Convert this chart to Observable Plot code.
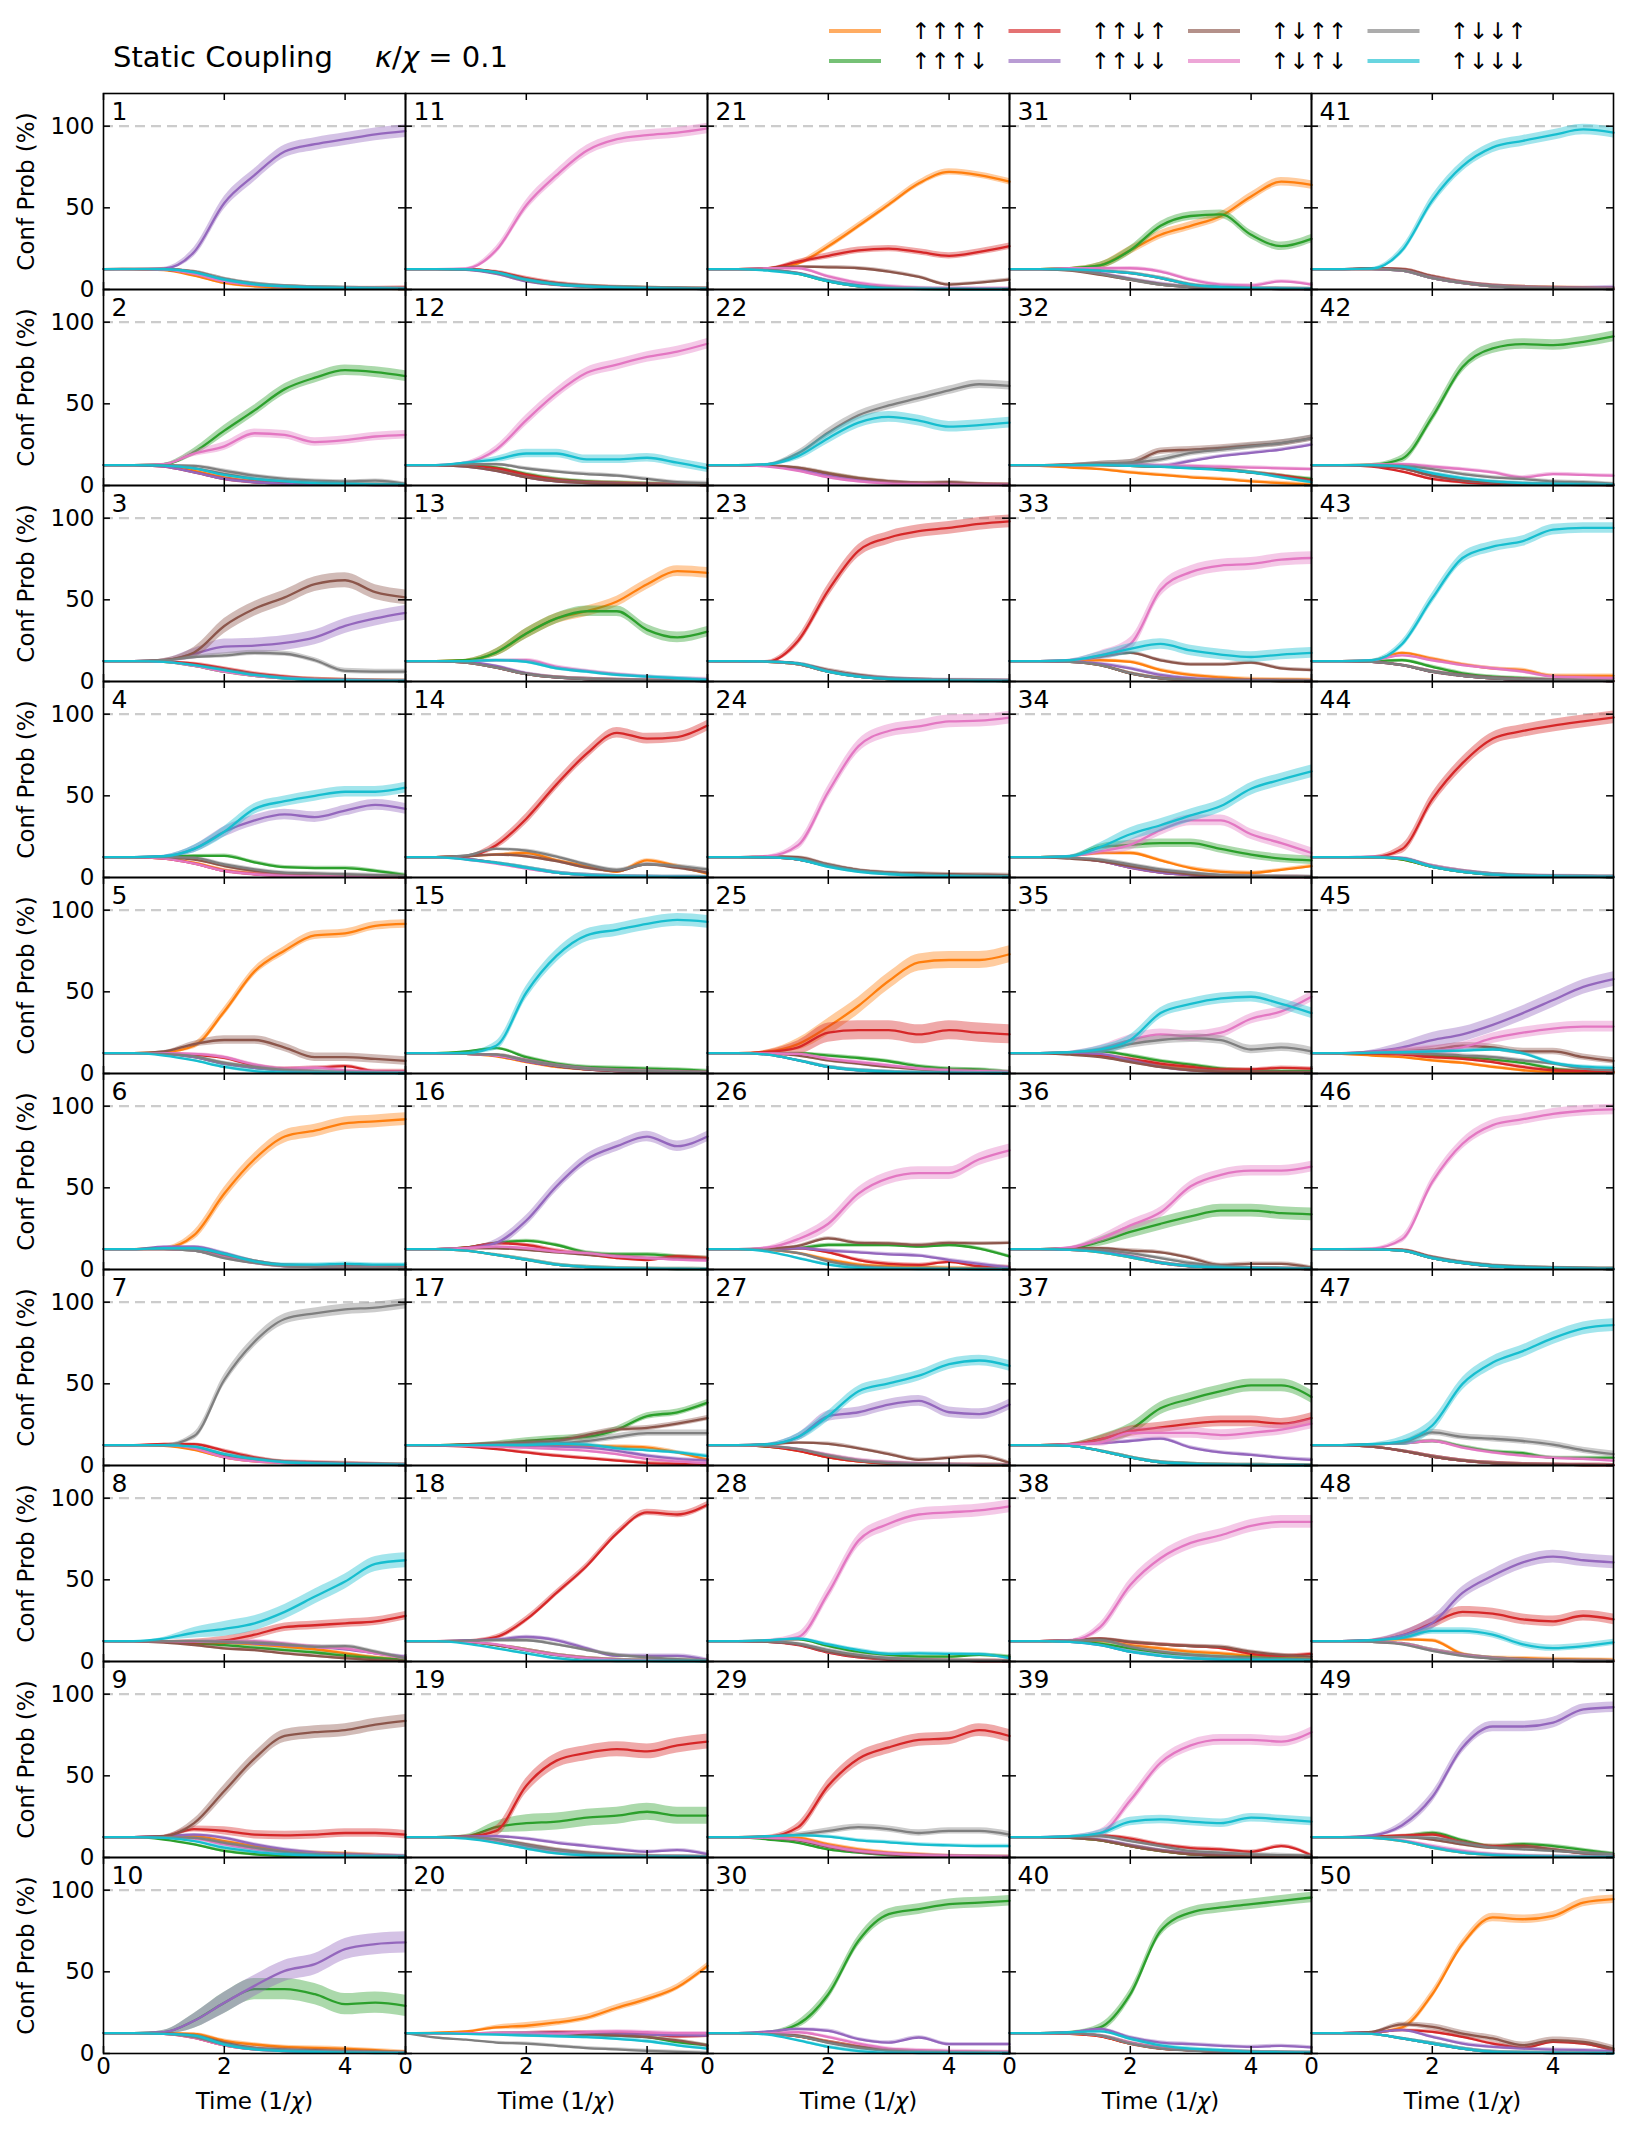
<!DOCTYPE html>
<html><head><meta charset="utf-8">
<script src="https://cdn.jsdelivr.net/npm/d3@7"></script>
<script src="https://cdn.jsdelivr.net/npm/@observablehq/plot@0.6"></script>
<style>
body{margin:0;background:#fff;font-family:"DejaVu Sans",sans-serif;}
#head{display:block;}
#chart svg{display:block;}
</style></head><body>
<svg id="head" width="1634" height="85"></svg>
<div id="chart"></div>
<script>
const T = [0,0.5,1,1.5,2,2.5,3,3.5,4,4.5,5];
const seriesLabels = ["↑↑↑↑","↑↑↑↓","↑↑↓↑","↑↑↓↓","↑↓↑↑","↑↓↑↓","↑↓↓↑","↑↓↓↓"];
const seriesColors = ["#ff7f0e","#2ca02c","#d62728","#9467bd","#8c564b","#e377c2","#7f7f7f","#17becf"];
const yTicks = [0,50,100];
const xTicks = [0,2,4];
const titleText = "Static Coupling";
const xLabel = "Time (1/χ)";
const yLabel = "Conf Prob (%)";

// series order in each panel: ↑↑↑↑, ↑↑↑↓, ↑↑↓↑, ↑↑↓↓, ↑↓↑↑, ↑↓↑↓, ↑↓↓↑, ↑↓↓↓ ; values at times T
const p1 = [[12.5,12.4,11.8,8.5,4,2,1.2,0.8,0.5,0.4,0.3],[12.5,12.5,12.2,10,5.5,3,1.8,1.2,0.8,0.6,0.4],[12.5,12.5,12.2,10,5.5,3,1.8,1.2,0.9,0.9,1.2],[12.5,12.5,12.8,23,53,70,84.5,89,92,95,97],[12.5,12.6,12.6,11,6.5,3.5,2,1.3,0.9,0.6,0.4],[12.5,12.5,12.2,9.5,5,2.8,1.7,1.1,0.8,0.6,0.4],[12.5,12.6,12.6,11,6.5,3.5,2,1.3,0.9,0.6,0.4],[12.5,12.5,12.4,10.5,6,3.2,1.9,1.2,0.9,0.6,0.4]];
const p2 = [[12.5,12.5,12,9,5,2.5,1.5,1,0.7,0.5,0.3],[12.5,12.5,13,20.5,33.6,46,59,66,70.6,69.4,67],[12.5,12.5,11.5,8,4,2,1.2,0.8,0.5,0.3,0.2],[12.5,12.5,11.5,8,4,2,1.2,0.8,0.5,0.3,0.2],[12.5,12.5,12.3,10.5,7,4,2.5,1.5,1,0.6,0.4],[12.5,12.5,13,19.5,24,32,31,26.6,27.8,30,31],[12.5,12.5,12.5,12,9,6,4,3,2.5,3,1],[12.5,12.5,12.2,10.5,6.5,4,2.5,1.5,1,0.6,0.4]];
const p3 = [[12.5,12.5,12,10,7,4,2.5,1.5,1,0.6,0.4],[12.5,12.5,12,9.5,6,3.5,2,1.2,0.8,0.5,0.3],[12.5,12.5,12.2,11,8,5,3,1.5,1,0.7,0.5],[12.5,12.5,13,17,21.4,22,23.6,27,34,38.6,42],[12.5,12.5,13.2,17.8,34,44.5,51.5,59.6,62,54.7,51.5],[12.5,12.5,12,9.5,6,3.5,2,1.2,0.8,0.5,0.3],[12.5,12.5,13,15,16,17.5,17,13,6.5,6,6],[12.5,12.5,12,10,7,4,2,1,0.6,0.4,0.3]];
const p4 = [[12.5,12.5,11.5,9,4.5,2.5,1.2,0.8,0.5,0.3,0.2],[12.5,12.5,13,13.3,13.3,9.3,6.3,5.8,5.8,4,1.5],[12.5,12.5,11.5,8.5,4,2,1,0.6,0.4,0.3,0.2],[12.5,12.5,13,17.5,28,35,38.6,37,41,44.5,42],[12.5,12.5,12,11,7,4,2,1.2,0.6,0.4,0.3],[12.5,12.5,11.5,8.5,4,2,1,0.6,0.4,0.3,0.2],[12.5,12.5,12.5,12,8,5,3,2.5,2,1.5,1],[12.5,12.5,13,17.5,28,42,46.7,50,52.5,52.5,55]];
const p5 = [[12.5,12.5,13,17,38,62.5,75.3,84.6,85.8,90.4,91.6],[12.5,12.5,12,10,6,3.5,2,1.2,0.8,0.5,0.3],[12.5,12.5,12.3,11.5,9.5,5,3,3.5,4.5,1.5,1.5],[12.5,12.5,12,10,6,3.5,2,1.2,0.8,0.5,0.3],[12.5,12.5,13.5,18,20.5,20.5,15.9,10,10,8.9,7.7],[12.5,12.5,12.5,12,10,5.4,3,3.5,1.9,1.2,1],[12.5,12.5,12,10.5,6.5,4,2.2,1.3,0.8,0.5,0.3],[12.5,12.5,11,8,4,1.5,0.6,0.3,0.2,0.1,0.1]];
const p6 = [[12.5,12.5,13,21,46.5,67.5,81.4,85,89.5,90.7,92],[12.5,12.5,12.5,11.5,8,5,2.5,2,2,1.8,1.5],[12.5,12.5,12.5,12,8.5,5,2.5,2,2,2,1.5],[12.5,12.5,14,14,10,5,2.5,1.5,1,0.8,0.5],[12.5,12.5,13,12.5,9,5,2.5,2,2,2,1.5],[12.5,12.5,12.5,11.5,7.5,4,2,1.5,1.2,1,0.8],[12.5,12.5,12.5,11.5,7,4,2,1.5,1.2,1,0.8],[12.5,12.5,13,13,9.5,5,3,3,3.5,3,3]];
const p7 = [[12.5,12.5,12,9.5,5,2.5,1.5,1,0.7,0.5,0.3],[12.5,12.5,12.5,11,6.5,3.5,2,1.3,0.9,0.6,0.4],[12.5,12.5,13.3,13,9,5,2.5,2,1.5,1,0.5],[12.5,12.5,12.5,11,6,3,1.8,1.2,0.8,0.5,0.3],[12.5,12.5,12.5,11,6.5,3.5,2,1.3,0.9,0.6,0.4],[12.5,12.5,12.5,10.5,5,2.5,1.5,1,0.7,0.5,0.3],[12.5,12.5,12.5,18,52.5,75.8,89.7,93.2,95.6,96.7,99],[12.5,12.5,12.5,11.5,7,4,2,1.3,0.9,0.6,0.4]];
const p8 = [[12.5,12.5,12.3,12,11.5,10.5,9,7.5,5,2.5,1],[12.5,12.5,12,11,10,8.5,7,5.5,3.5,2,1],[12.5,12.5,12.3,11.8,12.9,16.4,21,22.2,23.4,24.6,28],[12.5,12.5,12.5,12.3,12,11,10,9,7.5,5,3],[12.5,12.3,11.5,10,8,7,5,3.5,2,0.8,0.3],[12.5,12.5,12.5,12.3,12,12.5,11,9,8,5,2],[12.5,12.5,12.5,12.5,12,11.5,10.5,9,9.4,6,2],[12.5,12.5,14,17.6,20,23.4,30.4,39.8,49,59.7,62]];
const p9 = [[12.5,12.5,12.5,13,10,7,4,3,2.5,1.5,0.5],[12.5,12.5,11,8,4,2,1,0.6,0.4,0.3,0.2],[12.5,12.5,13,17.4,16.3,14,13.5,14,15,15,14],[12.5,12.5,13,14,12,8,5,3,2,1.5,1],[12.5,12.5,13,21,40.7,60.5,74.4,76.7,78,81.4,83.7],[12.5,12.5,12.3,11.5,8,5,3,1.8,1,0.6,0.4],[12.5,12.5,12.5,12,9,6,3.5,2,1.2,0.8,0.5],[12.5,12.5,12,10,6,3.5,2,1.2,0.8,0.5,0.3]];
const p10 = [[12.5,12.5,12.5,12,7.8,5.5,4,3.5,3,2,1],[12.5,12.5,13,20,31,39.4,39.4,36.3,30.2,31.2,29.2],[12.5,12.5,12,9.5,5,2.5,1.5,1,0.6,0.4,0.3],[12.5,12.5,13,20,31,41.4,50.6,54.7,63.9,67,68],[12.5,12.5,12.2,11,6.5,3.5,2.5,2,1.5,1,0.5],[12.5,12.5,12,9.5,5,2.5,1.5,1,0.6,0.4,0.3],[12.5,12.5,12,10,5.5,3,1.8,1.2,0.8,0.5,0.3],[12.5,12.5,12,11,5.5,2.5,1.5,1,0.5,0.3,0.2]];
const p11 = [[12.5,12.5,12.2,10,5.5,3,1.8,1.2,0.8,0.5,0.3],[12.5,12.5,12.3,10.5,6,3.3,2,1.3,0.9,0.6,0.4],[12.5,12.5,12.5,11,7,4,2.3,1.5,1,0.8,0.6],[12.5,12.5,12,9.5,5,2.8,1.6,1,0.7,0.5,0.3],[12.5,12.5,12.4,10.5,6,3.3,2,1.3,0.9,0.6,0.4],[12.5,12.5,12.8,24,51.6,70,85,92,94.5,96,98.6],[12.5,12.5,12.3,10,5.5,3,1.8,1.2,0.8,0.5,0.3],[12.5,12.5,12.3,10.5,6,3.2,1.9,1.2,0.8,0.5,0.3]];
const p12 = [[12.5,12.5,12,9.5,5.5,3,1.8,1.2,0.8,0.5,0.3],[12.5,12.5,12.3,11,7,4,2.5,1.8,1.2,0.8,0.5],[12.5,12.5,12,10.5,6.5,3.5,2,1.5,1,0.8,0.5],[12.5,12.5,11.5,9,5,2.5,1.5,1,0.6,0.4,0.3],[12.5,12.5,11.5,9,5,2.5,1.5,1,0.6,0.4,0.3],[12.5,12.5,14,22,40,56.5,69,74,78.7,82,86.8],[12.5,12.5,13,13,10.4,8.5,7,6,4,2,1.5],[12.5,12.5,14,16,19.6,19.6,16,16,17,14,10.5]];
const p13 = [[12.5,12.5,13,17.8,29.4,38.6,43,49,59.6,67.6,66.5],[12.5,12.5,13,17.8,29.4,38.6,43,43,31.6,27,30.5],[12.5,12.5,11.5,8.5,4.5,2.5,1.5,1,0.6,0.4,0.3],[12.5,12.5,12,9.5,5,2.5,1.5,1,0.6,0.4,0.3],[12.5,12.5,11.5,8.5,4.5,2.5,1.5,1,0.6,0.4,0.3],[12.5,12.5,12.5,13,13,9,6.5,4.5,3,2,1.5],[12.5,12.5,11.5,8.5,4.5,2.5,1.5,1,0.6,0.4,0.3],[12.5,12.5,12.5,13,12,8,6,4,3,2,1]];
const p14 = [[12.5,12.5,13,14,15,10.5,7,3.5,10.5,7,2.3],[12.5,12.5,11.5,9,6,3,1.5,0.8,0.5,0.3,0.2],[12.5,12.5,13,19.8,36,57,75.8,88.6,85,86,93],[12.5,12.5,11.5,9,6,3,1.5,0.8,0.5,0.3,0.2],[12.5,12.5,13,14,13,10,6,4,8,6,3],[12.5,12.5,11,8.5,5.5,3,1.5,0.8,0.5,0.3,0.2],[12.5,12.5,13.5,17.5,16.4,12.8,8,4.7,8,7,5],[12.5,12.5,11,9,6,3,1.5,0.8,0.5,0.3,0.2]];
const p15 = [[12.5,12.5,12,10.5,7,4,2.5,1.5,1,0.6,0.4],[12.5,12.5,13.5,15.5,10,6,4,3.5,3,2.5,1.5],[12.5,12.5,12,11,7.5,4.5,2.5,1.5,1,0.6,0.4],[12.5,12.5,12,11,7.5,4.5,2.5,1.5,1,0.6,0.4],[12.5,12.5,12,11.5,8,4.5,2.5,1.5,1,0.6,0.4],[12.5,12.5,12,11,8,5,3,2,1.5,1,0.5],[12.5,12.5,12,11.5,8,5,3,2,1.5,1,0.5],[12.5,12.5,12.5,17,49.6,72,84.6,88,91.6,94,92.8]];
const p16 = [[12.5,12.5,11.5,9,6,3,1.5,0.8,0.5,0.3,0.2],[12.5,12.5,13.5,16.3,17.5,15,10.5,9.3,9.3,8,7],[12.5,12.5,13.5,16,15,11.6,9.3,7,5.8,8,7],[12.5,12.5,13,16.3,30,51,67.5,75.5,81.4,75.5,81.4],[12.5,12.5,13,13,12,10.5,9,8,7,6.5,6],[12.5,12.5,13,14,13,11,10,8,7,6,5.5],[12.5,12.5,11.5,9,6,3,1.5,0.8,0.5,0.3,0.2],[12.5,12.5,11.5,9,6,3,1.5,0.8,0.5,0.3,0.2]];
const p17 = [[12.5,12.5,12.5,12.3,12,12,12,11.6,11,8,3.5],[12.5,12.5,13,13.5,15,16.4,17.5,22,30.3,32.6,38.5],[12.5,12.2,11.5,10,8,6,4.5,3,1.5,1,0.5],[12.5,12.5,12.3,12,12,11.5,11,9,6,4,3],[12.5,12.5,13,13.5,14,15,18.6,22,23,25.6,29],[12.5,12.5,12,11.5,11,10,9,7,4,2.5,1.5],[12.5,12.5,12.5,12.8,13,13.5,15,17.5,19.8,19.8,19.8],[12.5,12.5,12.5,12.5,12.5,13.3,12.8,10.5,9.3,8,5.8]];
const p18 = [[12.5,12.5,12,10,7,4,2,1,0.6,0.4,0.3],[12.5,12.5,12,10,7,4,2,1,0.6,0.4,0.3],[12.5,12.5,12.8,15,25.8,42,58.5,78.5,91.3,90,96],[12.5,12.5,13,13.5,15,13,8,3.5,3.5,3.5,1],[12.5,12.5,12,10,7,4,2,1,0.6,0.4,0.3],[12.5,12.5,12,10.5,7,4,2,1,0.6,0.4,0.3],[12.5,12.5,12.8,13,13,10.5,7,4,2.5,1.5,0.5],[12.5,12.5,11,8,5,2,0.5,0.3,0.2,0.1,0.1]];
const p19 = [[12.5,12.5,12,10,6,3,1.5,0.8,0.5,0.3,0.2],[12.5,12.5,13,18.6,21,22,24.4,25.6,28,25.6,25.6],[12.5,12.5,12.8,16.3,44,59.3,64,66.3,65,68.6,71],[12.5,12.5,12.8,13,11.5,9,7,5,3.5,4.5,2],[12.5,12.5,12.3,11,8,5,3,1.8,1,0.6,0.4],[12.5,12.5,12,10.5,7,4,2.2,1.3,0.8,0.5,0.3],[12.5,12.5,12.2,11,7.5,4.5,2.5,1.5,1,0.6,0.4],[12.5,12.5,11.5,9,5.5,2.5,1.2,0.7,0.4,0.3,0.2]];
const p20 = [[12.5,12.8,13.5,16,17,19,22,28,33.4,40.6,53.7],[12.5,12.5,12.5,12.3,12,11.8,11.5,11,10,7,5],[12.5,12.5,12.5,12.5,12.5,13,12.9,12.5,12,10.5,10.8],[12.5,12.5,12.5,12.5,12.5,12.5,12.5,12,11.5,11.2,11],[12.5,12.5,12.5,12.3,12,11.8,11.5,11,10,8,5],[12.5,12.5,12.5,12.5,12.3,12,13,13.5,13,12.5,12.5],[12.5,9.8,8.5,6.7,6,4.7,3.3,2.5,1.6,1,0.3],[12.5,12.5,12,11.5,11,10.5,10,9,7.5,5,3]];
const p21 = [[12.5,12.5,13,16,26.5,39,52,65,72,70,66],[12.5,12.5,12,9.5,5,2,0.8,0.4,0.2,0.1,0.1],[12.5,12.5,13,17,20.6,24,25,23,20.6,23,26.5],[12.5,12.5,12,10,5.5,2.5,1,0.5,0.3,0.2,0.1],[12.5,12.5,13,14,13.6,13,11,7.7,3,4.2,6],[12.5,12.5,13,13,8,4,2,1,0.8,0.8,0.8],[12.5,12.5,12,10,5,2,0.8,0.4,0.2,0.1,0.1],[12.5,12.5,11.5,9.5,5,2,0.5,0.3,0.2,0.1,0.1]];
const p22 = [[12.5,12.5,12,10.5,7,4,2,1.2,0.8,0.5,0.3],[12.5,12.5,12,10.5,7,4,2,1.2,0.8,0.5,0.3],[12.5,12.5,12,10,6.5,3.5,1.8,1.2,1,0.8,0.5],[12.5,12.5,12,10,6,3.5,2,1.2,0.8,0.5,0.3],[12.5,12.5,12.3,11,7.5,4.5,2.5,1.5,2,1,0.5],[12.5,12.5,11.5,9,5,2.5,1.2,0.8,0.5,0.3,0.2],[12.5,12.5,13,19.7,32.5,43,49,53.6,58.3,62,61],[12.5,12.5,13,18,29,38.5,42,39.7,36,37,38.5]];
const p23 = [[12.5,12.5,12,10.5,6,3,1.5,1,0.7,0.5,0.3],[12.5,12.5,12,10.5,6,3,1.5,1,0.7,0.5,0.3],[12.5,12.3,12.3,25,55.8,80,88,92,94,96.5,98],[12.5,12.5,12.3,11,6.5,3.5,2,1.3,0.9,0.8,0.7],[12.5,12.5,12.3,11,7,4,2,1.2,0.8,0.5,0.4],[12.5,12.5,12,10.5,6,3,1.5,1,0.7,0.5,0.3],[12.5,12.5,12,10.5,6,3,1.5,1,0.7,0.5,0.3],[12.5,12.5,12.2,11,6,3,1.5,0.8,0.5,0.3,0.2]];
const p24 = [[12.5,12.5,12.3,11,7,4,2.5,1.5,1,0.7,0.5],[12.5,12.5,12.3,11,7,4,2.5,1.5,1,0.7,0.5],[12.5,12.5,12.3,11,7,4,2.5,1.5,1,0.7,0.5],[12.5,12.5,12.3,11,7,4,2.5,1.5,1,0.7,0.5],[12.5,12.5,13,12.5,8,4.5,3,2.5,2,1.8,1.5],[12.5,12.5,13,19.8,52.5,80.4,89.7,92.5,95.6,96,97.9],[12.5,12.5,12.5,11.5,7.5,4,2.5,1.5,1,0.7,0.5],[12.5,12.5,12.3,11,6.5,3.5,2,1.2,0.8,0.5,0.3]];
const p25 = [[12.5,12.5,13.5,18,28.7,41.5,56.6,68,69.5,69.5,73],[12.5,12.5,12.5,12.5,11,9.5,7.5,4.5,3,2.5,1],[12.5,12.5,13.2,16,25,26.5,26.5,24,26.5,25,24],[12.5,12.5,11.5,8,4,2,1,0.5,0.3,0.2,0.1],[12.5,12.5,12,11,8,6,4,2.5,1.5,1,0.5],[12.5,12.5,12.3,12,9,7,5,3,2,1.5,1],[12.5,12.5,11.5,8,4,2,1,0.5,0.3,0.2,0.1],[12.5,12.5,11.5,8,4,2,1,0.5,0.3,0.2,0.1]];
const p26 = [[12.5,12.5,12,10,6,3,2,1.5,1,0.8,0.5],[12.5,12.5,12.5,13,15,15,15,14,15,12.8,8],[12.5,12.5,12.5,13,10.5,5.8,3.5,2.8,4.7,2,1.5],[12.5,12.5,12.5,13,11.6,10.5,9.3,8.5,5.8,3.5,1.2],[12.5,12.5,13,14.5,19,16.3,16,15,16.3,16,16.3],[12.5,12.5,13.5,18.6,28,46.5,56,59,59,67.5,73],[12.5,12.5,12,10,5,2,1,0.6,0.4,0.3,0.2],[12.5,12.5,11,7,3,1,0.5,0.3,0.2,0.1,0.1]];
const p27 = [[12.5,12.5,11.5,9,5,2.5,1.2,0.7,0.4,0.3,0.2],[12.5,12.5,11.5,9.5,6,3,1.5,0.8,0.5,0.3,0.2],[12.5,12.5,11.5,9,5,2.5,1.2,0.7,0.4,0.3,0.2],[12.5,12.5,13,17.5,30.3,32.6,37.3,39.6,32.6,31.5,37.3],[12.5,12.5,13,14,13.3,10.5,7,3.5,4.7,5.8,1.6],[12.5,12.5,12,10,6.5,3.5,2,1.2,0.8,0.5,0.3],[12.5,12.5,12,10,6,3,1.5,0.8,0.5,0.3,0.2],[12.5,12.5,13,17.5,30.3,45.5,50.3,55,62,64.3,61]];
const p28 = [[12.5,12.5,12,10.5,6,3,1.5,0.8,0.5,0.3,0.2],[12.5,12.5,13,13.5,9.5,6,4,3,3,4,3],[12.5,12.5,12,10,5.5,2.5,1.2,0.7,0.4,0.3,0.2],[12.5,12.5,12,10.5,6,3,1.5,0.8,0.5,0.3,0.2],[12.5,12.5,12,10.5,6,3,1.5,0.8,0.5,0.3,0.2],[12.5,12.5,12.8,15,42,74,84.3,90,91.3,92.5,95],[12.5,12.5,12.3,11,7,4,2,1.2,0.8,0.5,0.3],[12.5,12.5,13,14,10.5,7,4.7,5,4.7,4.5,2]];
const p29 = [[12.5,12.5,12.5,12,8,5,3,2,1,0.7,0.5],[12.5,12.5,11,9,5,3,1.5,0.8,0.5,0.3,0.2],[12.5,12.5,12.8,18.6,44,60.5,67.4,72,73,78,74.4],[12.5,12.5,12,10.5,6.5,3.5,2,1.2,0.8,0.5,0.3],[12.5,12.5,12,10.5,6.5,3.5,2,1.2,0.8,0.5,0.3],[12.5,12.5,12,11,7,4,2.5,1.5,1,0.6,0.4],[12.5,12.5,13,14,16.3,18.6,17.4,15,16.3,16.3,14],[12.5,12.5,13,13.5,12.8,10.5,9.3,8,7.4,7,7]];
const p30 = [[12.5,12.5,12,10.5,7,4,2,1.2,0.8,0.5,0.3],[12.5,12.5,13,18,36.3,69,85.3,88.4,91.4,92.4,93.5],[12.5,12.5,12,10.5,7,4,2,1.2,0.8,0.5,0.3],[12.5,12.5,13.5,15,13.9,8.8,6.7,9.8,5.7,5.7,5.7],[12.5,12.5,12,11,7,4,2,1.2,0.8,0.5,0.3],[12.5,12.5,12.5,13,10,6,3,2,1.5,1.2,1],[12.5,12.5,12,10.5,6.5,3.5,1.8,1,0.7,0.5,0.3],[12.5,12.5,11.5,8,4,1.5,0.5,0.3,0.2,0.1,0.1]];
const p31 = [[12.5,12.5,13,14.8,24,33.5,39,45,57,66,64],[12.5,12.5,13,14.8,24,39,45,46,33.5,26.5,31],[12.5,12.5,12.3,11.5,10,7,3,1.5,0.8,0.5,0.3],[12.5,12.5,12,10,6.5,3.5,1.5,0.8,0.5,0.3,0.2],[12.5,12.5,11.5,9,6,3,1.5,0.8,0.5,0.3,0.2],[12.5,12.5,13,13,13,11,6,3,2.5,5,3],[12.5,12.5,11.8,9.5,6,3,1.5,0.8,0.5,0.3,0.2],[12.5,12.5,12.3,11.5,10,7,3,1.5,0.8,0.5,0.3]];
const p32 = [[12.5,12,11,10,8,6.5,5,4,2.5,1.5,0.5],[12.5,12.5,12.5,12.5,12,11.5,11,10,8,6,4],[12.5,12.5,12.5,12.5,12,11.5,11,10,8,6,3],[12.5,12.5,12.5,12.8,13,12,15,18,20,22,25],[12.5,12.5,13,13.5,14,21,22,23,24.6,26,29],[12.5,12.5,12.5,12.5,12.5,12.3,12,11.5,11,10.5,10],[12.5,12.5,13,13.5,14,16,20,22,24,26,29],[12.5,12.5,12.5,12.5,12,11.5,10.5,9.5,8,5,2]];
const p33 = [[12.5,12.5,12.5,13,12,7,4,2.5,1.5,1.2,1],[12.5,12.5,12,10,5,2,1,0.6,0.4,0.3,0.2],[12.5,12.5,12,10,5,2,1,0.6,0.4,0.3,0.2],[12.5,12.5,12,11,8,4,2,1,0.6,0.4,0.3],[12.5,12.5,13,15,17.5,13,10.5,10.5,11.5,8,7],[12.5,12.5,13,16,23,56,67,71,72,74.6,75.6],[12.5,12.5,12,10,5,2,1,0.6,0.4,0.3,0.2],[12.5,12.5,13,16,20,23,19,16.5,15,16.5,17.5]];
const p34 = [[12.5,12.5,13,15,15,10.5,5.8,3.5,2.8,4.7,7],[12.5,12.5,13,18.6,20,21,21,17.5,14,11.6,10.5],[12.5,12.5,12,10,6,3,1.5,0.8,0.5,0.3,0.2],[12.5,12.5,12,10,6,3,1.5,0.8,0.5,0.3,0.2],[12.5,12.5,11.5,10,7,4,2,1,0.5,0.3,0.2],[12.5,12.5,13,16,20,29,35,35,26.5,21,15],[12.5,12.5,12,11,8,5,3,1.5,1,0.7,0.5],[12.5,12.5,13,18.6,26.5,32,38,43.8,54.3,60,65]];
const p35 = [[12.5,12.5,12,11,8,5,3,1.8,1,0.6,0.4],[12.5,12.5,12.8,13.5,11,7.7,5.4,3,1.9,1.5,1.5],[12.5,12.5,12,11,9,6,4,2.5,2.5,3.5,3],[12.5,12.5,12.5,12,8,4,2,1,0.6,0.4,0.3],[12.5,12.5,11.5,10,7,4,2,1.2,1,0.8,0.5],[12.5,12.5,13,15,20.5,24,22.8,25,33.5,38,47],[12.5,12.5,13,14,18,20.5,21.6,20.5,14.7,16,13.5],[12.5,12.5,13,14.7,20.5,37,42.6,46,47,42.6,37]];
const p36 = [[12.5,12.5,12,10.5,7.5,4,2,1.2,0.8,0.5,0.3],[12.5,12.5,13,17,23,28,32.5,36,36,34.5,33.8],[12.5,12.5,12,11,8,4,2,1.2,0.8,0.5,0.3],[12.5,12.5,12,11,8,4,2,1.2,0.8,0.5,0.3],[12.5,12.5,13,13,11.6,10.5,7,2.8,3.5,3.5,1.2],[12.5,12.5,13.5,18.6,27,35,51,58,60.5,60.5,63],[12.5,12.5,12.5,12,10,7,4,2,1,0.6,0.4],[12.5,12.5,12,10.5,7.5,4,2,1.2,0.8,0.5,0.3]];
const p37 = [[12.5,12.5,12,9,5,2,1,0.5,0.3,0.2,0.1],[12.5,12.5,13,16,22,35,40.8,45.5,49,49,42],[12.5,12.5,13,16,21,23.3,25.6,27,27,25.6,29],[12.5,12.5,12.8,13.5,15,16.4,11,8,6.5,4.7,3.5],[12.5,12.5,12,9,5,2,1,0.5,0.3,0.2,0.1],[12.5,12.5,12.8,14,20,20,20,18.6,20,22,25.6],[12.5,12.5,12,9,5,2,1,0.5,0.3,0.2,0.1],[12.5,12.5,12,9,5,2,1,0.5,0.3,0.2,0.1]];
const p38 = [[12.5,12.5,12.5,12.5,10,8,6,5,3.5,2.5,1.5],[12.5,12.5,12,11,8,5.5,4,3,2.5,1.8,1],[12.5,12.5,13,14,11.7,10.5,9.4,8.2,4.7,3.5,4.7],[12.5,12.5,12,10,6,3.5,2,1.2,1,0.8,0.5],[12.5,12.5,13,14,12,10.5,9.5,9,6,4,3],[12.5,12.5,12.8,21,46.8,63.2,72.6,77.3,83,85.5,85.5],[12.5,12.5,12.8,13,9,6,4,3,2,1.5,1],[12.5,12.5,12,10,6,3.5,2,1.2,1,0.8,0.5]];
const p39 = [[12.5,12.5,12,10.5,7,4,2,1.2,0.8,0.5,0.3],[12.5,12.5,12,10.5,7,4,2,1.2,0.8,0.5,0.3],[12.5,12.5,12.8,13.5,11.6,8,5.8,5,3.5,7,1.2],[12.5,12.5,12,11,7.5,4.5,2.5,1.5,1,0.6,0.4],[12.5,12.5,12,10.5,7,4,2,1.2,0.8,0.5,0.3],[12.5,12.5,13,15,35,58,68.6,72,72,71,76.7],[12.5,12.5,12.8,13,10,7,4,3,2,1.5,1],[12.5,12.5,13,15,22,23.3,22,21,24.4,23.3,22]];
const p40 = [[12.5,12.5,12,10.5,6,3,2,1.2,0.8,0.5,0.3],[12.5,12.5,13,16,36.3,75,86.3,89.4,91.4,93.5,95.5],[12.5,12.5,12,10.5,6,3,2,1.2,0.8,0.5,0.3],[12.5,12.5,13,15,9.8,6.7,5.7,4.7,4,4.7,3.7],[12.5,12.5,12.3,11,6.5,3.5,2,1.3,0.9,0.6,0.4],[12.5,12.5,12.3,11,6.5,3.5,2,1.3,0.9,0.6,0.4],[12.5,12.5,12.3,11,6,3,1.8,1.2,0.8,0.5,0.3],[12.5,12.5,13,13.5,9,5,3,2,1,0.7,0.5]];
const p41 = [[12.5,12.5,12.5,12,7.5,4,2,1.5,1.2,1,0.8],[12.5,12.5,12.5,11.5,7,4,2,1.2,0.8,0.5,0.3],[12.5,12.5,13,12.5,8,4.5,2.5,1.5,1,0.7,0.5],[12.5,12.5,12.5,11.5,7,4,2,1.2,0.9,1,1.5],[12.5,12.5,13,12.5,8,4.5,2.5,1.5,1,0.7,0.5],[12.5,12.5,12.5,11.5,7,4,2,1.2,0.8,0.5,0.3],[12.5,12.5,12.5,11.5,7,4,2,1.2,0.8,0.5,0.3],[12.5,12.5,12.8,24,54.6,75.5,87,91,94.6,98,96]];
const p42 = [[12.5,12.5,12,10.5,6,3,1.8,1,0.7,0.5,0.3],[12.5,12.5,12.8,16.4,42,72.6,84,86.6,86,88,91.3],[12.5,12.5,11.5,8.5,4,2,1,0.6,0.4,0.3,0.2],[12.5,12.5,12,10.5,6,3,1.8,1,0.7,0.5,0.3],[12.5,12.5,12,10.5,6,3,1.8,1,0.7,0.5,0.3],[12.5,12.5,12.8,13,11.5,10,8,5,7,6.5,6],[12.5,12.5,12.5,12,10,7,5,4,2.5,2,1],[12.5,12.5,12.5,11.5,7.5,4.5,2.5,1.5,1,0.6,0.4]];
const p43 = [[12.5,12.5,13,17.5,14,10.5,8,7,3.5,3.5,3.5],[12.5,12.5,12.5,13,9,5,3,2,1,0.7,0.5],[12.5,12.5,12,10,6,3.5,2,1.2,0.8,0.5,0.3],[12.5,12.5,12,10,6,3.5,2,1.2,0.8,0.5,0.3],[12.5,12.5,12,10,6,3.5,2,1.2,0.8,0.5,0.3],[12.5,12.5,13,16,13,10,8,6,3,2.5,2],[12.5,12.5,12,10,6,3.5,2,1.2,0.8,0.5,0.3],[12.5,12.5,13,23,51,75.6,82.6,86,93,94,94]];
const p44 = [[12.5,12.5,12.3,11,6.5,3.5,1.8,1,0.7,0.5,0.3],[12.5,12.5,12.3,11,6.5,3.5,1.8,1,0.7,0.5,0.3],[12.5,12.5,12.5,17.5,48,70,85,89.7,93,95.6,98],[12.5,12.5,12.8,12,7,4,2,1,1,0.8,0.6],[12.5,12.5,12.5,11.5,7,4,2,1.2,0.8,0.5,0.3],[12.5,12.5,12.5,11.5,7,4,2,1.2,0.8,0.5,0.3],[12.5,12.5,12.5,11.5,6.5,3.5,1.8,1,0.7,0.5,0.3],[12.5,12.5,12.5,11.5,6.5,3.5,1.8,1,0.7,0.5,0.3]];
const p45 = [[12.5,12,11,10,8,6.5,4,2,1,0.7,0.5],[12.5,12.5,12.3,12,11,10,8.5,6.5,3,1.5,1],[12.5,12.5,12.2,11.5,10,9,7,4,2,1.5,1],[12.5,12.5,13.5,16,20.5,24,29.8,37,45,53,57.8],[12.5,12.5,13,13.5,14.7,17,16,13.5,13.5,10,7.7],[12.5,12.5,12.8,13.5,14,16,21.6,25,27.5,28.7,28.7],[12.5,12.5,12.5,12.5,12,11,10,8,6,3,2],[12.5,12.5,12.8,13,13.5,14,14.7,12.3,6.5,4.2,3.5]];
const p46 = [[12.5,12.5,12.3,11.5,7,4,2,1.2,0.8,0.5,0.3],[12.5,12.5,12.3,11.5,7,4,2,1.2,0.8,0.5,0.3],[12.5,12.5,12.5,12,7.5,4,2,1.2,0.8,0.5,0.3],[12.5,12.5,12.3,11.5,7,4,2,1.2,0.8,0.5,0.3],[12.5,12.5,12.5,12,7.5,4.5,2.5,1.5,1,0.7,0.5],[12.5,12.5,12.8,18.6,53.6,77,88.4,92,95.3,97.2,98],[12.5,12.5,12.3,11.5,7,4,2,1.2,0.8,0.5,0.3],[12.5,12.5,12.3,11.5,7,4,2,1.2,0.8,0.5,0.3]];
const p47 = [[12.5,12.5,11.5,9,5.5,3,1.5,0.8,0.5,0.3,0.2],[12.5,12.5,13,13.5,15,11.6,8.6,7.5,4.7,4.7,4.7],[12.5,12.5,11.5,9,5.5,3,1.5,0.8,0.5,0.3,0.2],[12.5,12.5,11.5,9,5.5,3,1.5,0.8,0.5,0.3,0.2],[12.5,12.5,11.5,9,5.5,3,1.5,0.8,0.5,0.3,0.2],[12.5,12.5,13,13.5,15,11,8,6,4.7,4,3],[12.5,12.5,13,14,20.3,17.5,16.4,15,12.8,9.3,7],[12.5,12.5,13,15,24.5,50,63,70,78,84,86]];
const p48 = [[12.5,12.5,13,13.5,12.9,4.7,2.3,2,1.5,1.2,1],[12.5,12.5,12,11,7,4,2,1,0.5,0.3,0.2],[12.5,12.5,13,16,23.5,30.4,29.3,25.8,24.6,28,25.8],[12.5,12.5,13,16,23.5,42,52.5,60.7,64.2,62,60.7],[12.5,12.5,12,11,7,4,2,1,0.5,0.3,0.2],[12.5,12.5,12,11,7,4,2,1,0.5,0.3,0.2],[12.5,12.5,12,10.5,6.5,3.5,1.8,0.9,0.5,0.3,0.2],[12.5,12.5,13,14.5,18.7,18.7,16.4,10.5,8.2,9.4,11.7]];
const p49 = [[12.5,12.5,12,10,6,3,1.5,0.8,0.5,0.3,0.2],[12.5,12.5,12.8,13,15,10.5,7,8.2,7,4.7,2.3],[12.5,12.5,12.8,13.5,14,9.3,7,7,4.7,2.5,1],[12.5,12.5,13.5,19.8,37,67.4,80.2,80.2,82.6,90.7,92],[12.5,12.5,12.5,12.5,11,8,6,6.5,5,2.5,1],[12.5,12.5,12,10.5,7,4,2,1.2,0.8,0.5,0.3],[12.5,12.5,12.5,12.5,12,9,6,5,4,3,2],[12.5,12.5,12,10,6,3,1.5,0.8,0.5,0.3,0.2]];
const p50 = [[12.5,12.5,12.8,16,36.3,67,83.3,82.2,84.3,92.4,94.5],[12.5,12.5,12,9.2,6.1,3,1,0.5,0.3,0.2,0.1],[12.5,12.5,13,14.3,13.3,10.2,6.1,3.5,7.1,6.1,2],[12.5,12.5,13,14.3,10.2,6.1,4,3,2.4,2,1.5],[12.5,12.5,13.3,17.8,16.3,12.2,9.2,5.1,8.2,7.1,3],[12.5,12.5,12,9.2,6.1,3,1,0.5,0.3,0.2,0.1],[12.5,12.5,12,9.2,6.1,3,1,0.5,0.3,0.2,0.1],[12.5,12.5,12,9.2,6.1,3,1,0.5,0.3,0.2,0.1]];

// confidence band half-widths [panel, series, width]; others use defaultBand
const defaultBand = 0.8;
const wideBands = [[1,3,3],[2,1,2.5],[2,5,2],[3,4,3.5],[3,3,3.5],[3,6,1.2],[4,7,2.5],[4,3,2.5],[5,0,2],[5,4,2],[6,0,3],[7,6,2.5],[8,7,3.5],[8,2,2],[9,4,3],[9,2,2],[10,3,5],[10,1,5],
[11,5,2.5],[12,5,2.5],[12,7,2],[13,0,2.5],[13,1,2.5],[14,2,2.5],[15,7,3],[16,3,2.5],[17,1,1.5],[17,4,1.2],[17,6,1.5],[18,2,1.5],[19,2,3.5],[19,1,4],[20,0,1.5],
[21,0,1.5],[21,2,1.5],[22,6,2],[22,7,2.5],[23,2,3],[24,5,3],[25,0,4],[25,2,4.5],[26,5,3],[27,7,2.5],[27,3,2.5],[28,5,3],[29,2,3],[29,6,1.5],[30,1,2.5],
[31,0,2],[31,1,2],[32,6,1.5],[32,4,1.5],[33,5,3],[33,7,2.5],[34,7,3],[34,5,2.5],[34,1,2],[35,7,2.5],[35,5,2.5],[35,6,2],[36,5,2.5],[36,1,3],[37,1,3],[37,2,2.5],[37,5,2.5],[38,5,3],[39,5,2.5],[39,7,2],[40,1,2.5],
[41,7,2.5],[42,1,2.5],[43,7,2.5],[44,2,3],[45,3,3.5],[45,5,2.5],[45,4,1.5],[46,5,2.5],[47,7,3],[47,6,1.5],[48,3,3],[48,2,2.5],[48,7,1.5],[49,3,2.5],[50,0,2],[50,4,1.5]];

const panels = [p1,p2,p3,p4,p5,p6,p7,p8,p9,p10,p11,p12,p13,p14,p15,p16,p17,p18,p19,p20,p21,p22,p23,p24,p25,p26,p27,p28,p29,p30,p31,p32,p33,p34,p35,p36,p37,p38,p39,p40,p41,p42,p43,p44,p45,p46,p47,p48,p49,p50];

const bandScale = 1.3;
const rows = [];
const panelInfo = [];
panels.forEach((p, i) => {
  const n = i + 1, col = Math.floor(i / 10) + 1, row = (i % 10) + 1;
  panelInfo.push({n, col, row});
  p.forEach((vals, s) => {
    const wb = wideBands.find(d => d[0] === n && d[1] === s);
    const w = (wb ? wb[2] : defaultBand) * bandScale;
    vals.forEach((v, k) => {
      const t = T[k];
      const r = Math.max(0, Math.min(1, (t - 0.8) / 1.0));
      rows.push({n, col, row, s, t, v, lo: Math.max(0, v - w * r), hi: v + w * r});
    });
  });
});

// header: title + legend
const head = d3.select("#head");
head.append("text").attr("x", 113).attr("y", 67).attr("font-size", 29).attr("font-family", "DejaVu Sans").text(titleText);
const kt = head.append("text").attr("x", 375).attr("y", 67).attr("font-size", 29).attr("font-family", "DejaVu Sans");
kt.append("tspan").attr("font-style", "italic").text("κ");
kt.append("tspan").text("/");
kt.append("tspan").attr("font-style", "italic").text("χ");
kt.append("tspan").text(" = 0.1");
seriesLabels.forEach((lab, s) => {
  const c = Math.floor(s / 2), r = s % 2;
  const x0 = 829 + c * 179.5, yc = 31 + r * 30;
  head.append("line").attr("x1", x0).attr("x2", x0 + 52).attr("y1", yc).attr("y2", yc)
    .attr("stroke", seriesColors[s]).attr("stroke-opacity", 0.65).attr("stroke-width", 4);
  head.append("text").attr("x", x0 + 82).attr("y", yc + 8).attr("font-size", 23).attr("font-family", "DejaVu Sans").text(lab);
});

const marks = [
  Plot.ruleY([100], {stroke: "#cccccc", strokeWidth: 2.2, strokeDasharray: "10,6"})
];
seriesColors.forEach((c, s) => {
  const d = rows.filter(r => r.s === s);
  marks.push(Plot.areaY(d, {x: "t", y1: "lo", y2: "hi", z: "n", fx: "col", fy: "row", fill: c, fillOpacity: 0.4, curve: "monotone-x"}));
  marks.push(Plot.lineY(d, {x: "t", y: "v", z: "n", fx: "col", fy: "row", stroke: c, strokeWidth: 2.3, curve: "monotone-x"}));
});
marks.push(
  Plot.ruleY(yTicks, {x1: 0, x2: 0.115, stroke: "black", strokeWidth: 1.5}),
  Plot.ruleY(yTicks, {x1: 4.885, x2: 5, stroke: "black", strokeWidth: 1.5}),
  Plot.ruleX(xTicks, {y1: 0, y2: 4.3, stroke: "black", strokeWidth: 1.5}),
  Plot.ruleX(xTicks, {y1: 115.7, y2: 120, stroke: "black", strokeWidth: 1.5}),
  Plot.frame({stroke: "black", strokeWidth: 1.6}),
  Plot.axisY(yTicks, {tickSize: 0, tickPadding: 9, fontSize: 23, label: null}),
  Plot.axisX(xTicks, {tickSize: 0, tickPadding: 4, fontSize: 23, label: null}),
  Plot.text(panelInfo, {fx: "col", fy: "row", text: d => String(d.n), frameAnchor: "top-left", dx: 8, dy: 9, fontSize: 25, textAnchor: "start", lineAnchor: "top", fill: "black"}),
  Plot.text(panelInfo.filter(d => d.col === 1), {fx: "col", fy: "row", text: () => yLabel, frameAnchor: "left", dx: -77, rotate: -90, textAnchor: "middle", lineAnchor: "middle", fontSize: 23, fill: "black"}),
  Plot.text(panelInfo.filter(d => d.row === 10), {fx: "col", fy: "row", text: () => xLabel, frameAnchor: "bottom", dy: 55, textAnchor: "middle", fontSize: 23, fill: "black"})
);

const chart = Plot.plot({
  width: 1634, height: 2053,
  marginLeft: 102, marginRight: 20, marginTop: 6, marginBottom: 83,
  x: {domain: [0, 5]},
  y: {domain: [0, 120]},
  fx: {domain: [1,2,3,4,5], padding: 0, axis: null},
  fy: {domain: [1,2,3,4,5,6,7,8,9,10], padding: 0, axis: null},
  style: {fontFamily: "DejaVu Sans", background: "white", overflow: "visible", color: "black"},
  marks
});
document.getElementById("chart").appendChild(chart);
// italic χ in the x-axis labels, as in the reference
d3.select(chart).selectAll("text").each(function() {
  const el = d3.select(this);
  const tspans = el.selectAll("tspan");
  const target = tspans.empty() ? el : tspans;
  target.each(function() {
    const t = d3.select(this);
    if (t.text() === xLabel) {
      t.text(null);
      t.append("tspan").text("Time (1/");
      t.append("tspan").attr("font-style", "italic").text("χ");
      t.append("tspan").text(")");
    }
  });
});
</script>
</body></html>
